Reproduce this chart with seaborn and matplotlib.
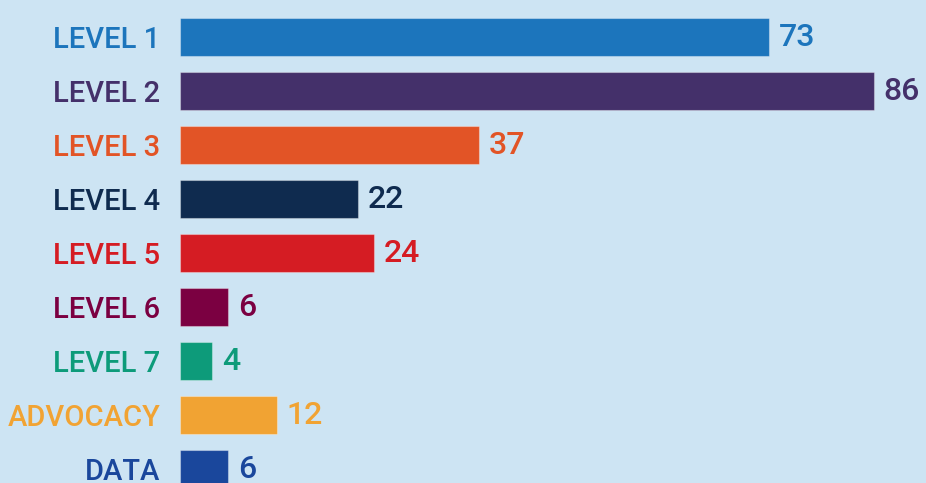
import matplotlib
matplotlib.use("Agg")
import matplotlib.pyplot as plt
import seaborn as sns
import pandas as pd

categories = ["LEVEL 1", "LEVEL 2", "LEVEL 3", "LEVEL 4", "LEVEL 5",
              "LEVEL 6", "LEVEL 7", "ADVOCACY", "DATA"]
values = [73, 86, 37, 22, 24, 6, 4, 12, 6]
bar_colors = ["#1c75bc", "#44306a", "#e25426", "#0f2b4f", "#d51c23",
              "#7b0041", "#0d9b7a", "#f1a333", "#1a479c"]

bg = "#cde4f3"
plt.rcParams["font.family"] = ["Roboto", "DejaVu Sans"]
fsize = 21

df = pd.DataFrame({"cat": categories, "val": values})

fig = plt.figure(figsize=(9.26, 4.83), dpi=100, facecolor=bg)
ax = fig.add_axes([180 / 926, 0, 1 - 180 / 926, 1])
ax.set_facecolor(bg)

sns.barplot(ax=ax, data=df, x="val", y="cat", hue="cat", palette=bar_colors,
            orient="h", width=0.72, legend=False, saturation=1,
            edgecolor="#ffffff55", linewidth=0.8)

# bar labels, coloured like the bars
for cont, col in zip(ax.containers, bar_colors):
    ax.bar_label(cont, padding=7, fontsize=23, color=col, fontweight="medium")

ax.set_xlim(0, (926 - 180) / 8.07)
ax.set_ylim((483 - 37) / 54, -37 / 54)
ax.set_xlabel("")
ax.set_ylabel("")
ax.set_xticks([])
ax.tick_params(axis="y", length=0, pad=14, labelsize=fsize)
for lbl, col in zip(ax.get_yticklabels(), bar_colors):
    lbl.set_color(col)
    lbl.set_fontweight("medium")
sns.despine(ax=ax, left=True, bottom=True)

fig.savefig("out.png", dpi=100, facecolor=bg)
